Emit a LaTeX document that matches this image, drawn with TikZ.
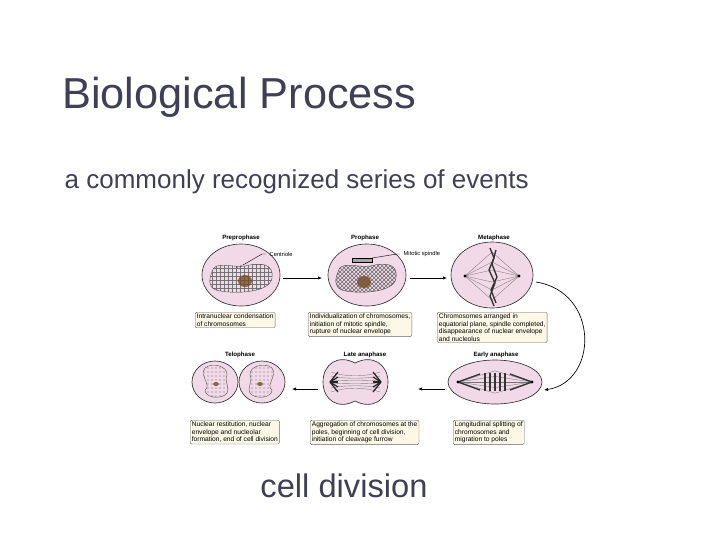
\documentclass[tikz,border=0pt]{standalone}
\usepackage{fontspec}
\setmainfont{Liberation Sans}
\usetikzlibrary{arrows.meta,patterns}
\definecolor{cellpink}{HTML}{F2D9E8}
\definecolor{boxcream}{HTML}{FCF7E6}
\definecolor{nucl}{HTML}{EDE6CF}
\definecolor{titlec}{HTML}{3F3F55}
\tikzset{
  cell/.style={draw=black!80,line width=0.5pt,fill=cellpink},
  desc/.style={draw=black!60,line width=0.3pt,fill=boxcream,rounded corners=1pt,align=left,font=\fontsize{5}{5.6}\selectfont,inner sep=1.2pt,anchor=north west},
  phase/.style={font=\fontsize{4.6}{5.5}\selectfont\bfseries},
  flow/.style={-{Latex[length=3pt,width=2.5pt]},line width=0.5pt},
  nuc/.style={draw=black!70,line width=0.3pt,fill=nucl},
  small/.style={font=\fontsize{4.3}{5}\selectfont},
}
\begin{document}
\begin{tikzpicture}[x=0.75pt,y=-0.75pt]
\useasboundingbox (0,0) rectangle (720,540);
\node[anchor=base west,text=titlec,inner sep=0pt,font=\fontsize{32.5}{34}\selectfont] (title) at (62,108) {Biological Process};
\node[anchor=base west,text=titlec,font=\fontsize{19.5}{22}\selectfont] (sub) at (60,188) {a commonly recognized series of events};
\node[anchor=base,text=titlec,font=\fontsize{24.5}{26}\selectfont] (cap) at (344,497) {cell division};

% phase labels
\node[phase] (l1) at (241,238) {Preprophase};
\node[phase] (l2) at (365,238) {Prophase};
\node[phase] (l3) at (494,238) {Metaphase};
\node[phase] (l4) at (240,355) {Telophase};
\node[phase] (l5) at (365,355) {Late anaphase};
\node[phase] (l6) at (496,355) {Early anaphase};

% Preprophase
\draw[cell] (241,275) ellipse (39 and 31);
\draw[nuc,pattern=grid,pattern color=black!55] (212,272) .. controls (214,260) and (232,268) .. (245,266) .. controls (262,262) and (274,264) .. (272,278) .. controls (270,294) and (230,294) .. (216,290) .. controls (208,287) and (209,279) .. (212,272) -- cycle;
\fill[brown!60!black,opacity=0.8] (245,281) ellipse (7 and 6);
\fill[black!70] (237,267) circle (0.9) (241,266) circle (0.9);
\coordinate (cen) at (243,265);
\draw[line width=0.3pt] (cen) -- (262,254) -- (266,254);
\node[anchor=west,small] (lc) at (265,254) {Centriole};

% Prophase
\draw[cell] (367,275) ellipse (39 and 31);
\draw[nuc,pattern=crosshatch,pattern color=black!60] (338,272) .. controls (340,260) and (358,268) .. (370,266) .. controls (387,262) and (398,264) .. (396,278) .. controls (394,294) and (354,294) .. (342,290) .. controls (334,287) and (335,279) .. (338,272) -- cycle;
\fill[brown!60!black,opacity=0.8] (364,282) ellipse (7 and 6);
\draw[line width=0.4pt,fill=black!35] (352,258) rectangle (372,262);
\coordinate (msp) at (372,258);
\draw[line width=0.3pt] (msp) -- (397,254) -- (400,254);
\node[anchor=west,small] (lm) at (399,254) {Mitotic spindle};

% Metaphase
\draw[cell] (492,275) ellipse (41 and 33);
\foreach \a in {-12,-7,-3,3,7,12}{\draw[black!55,line width=0.25pt] (465,276) -- (492,276+\a*2) -- (519,276);}
\draw[black!80,line width=1pt] (490,248) -- (494,258) -- (489,270) -- (495,283) -- (490,296) -- (494,306);
\draw[black!80,line width=1pt] (496,250) -- (492,264) -- (497,277) -- (491,290) -- (496,303);
\fill[black] (465,276) circle (1.6) (519,276) circle (1.6);

% Early anaphase
\draw[cell] (495,382) ellipse (47 and 22);
\foreach \a in {-8,-4,0,4,8}{\draw[black!55,line width=0.25pt] (458,382) -- (495,382+\a*1.4) -- (532,382);}
\draw[black!80,line width=1pt] (458,382) -- (480,374) (458,382) -- (480,390) (532,382) -- (510,374) (532,382) -- (510,390);
\foreach \x in {485,490,495,500,505}{\draw[black!80,line width=0.9pt] (\x,373) -- (\x,391);}
\fill[black] (458,382) circle (1.6) (532,382) circle (1.6);

% Late anaphase
\draw[cell] (355,363) .. controls (372,354) and (388,364) .. (388,382) .. controls (388,400) and (372,410) .. (355,401) .. controls (338,410) and (323,400) .. (323,382) .. controls (323,364) and (338,354) .. (355,363) -- cycle;
\foreach \a in {-10,-6,-2,2,6,10}{\draw[black!50,line width=0.3pt] (331,382+\a) .. controls (345,382+\a*0.5) and (365,382+\a*0.5) .. (380,382+\a);}
\foreach \a in {-10,-5,0,5,10}{\draw[black!85,line width=0.9pt] (330,382) -- (338,382+\a) (381,382) -- (373,382+\a);}

% Telophase
\draw[cell] (215,382) ellipse (23 and 21);
\draw[cell] (262,382) ellipse (23 and 21);
\draw[nuc,pattern=dots,pattern color=black!60] (205,368) .. controls (212,362) and (228,366) .. (227,375) .. controls (224,382) and (230,386) .. (227,393) .. controls (222,400) and (205,398) .. (205,390) .. controls (212,385) and (199,376) .. (205,368) -- cycle;
\draw[nuc,pattern=dots,pattern color=black!60] (272,368) .. controls (265,362) and (249,366) .. (250,375) .. controls (253,382) and (247,386) .. (250,393) .. controls (255,400) and (272,398) .. (272,390) .. controls (265,385) and (278,376) .. (272,368) -- cycle;
\fill[brown!60!black,opacity=0.8] (216,384) ellipse (3 and 2) (260,384) ellipse (3 and 2);

% description boxes
\node[desc] (d1) at (195,312) {Intranuclear condensation\\of chromosomes};
\node[desc] (d2) at (308,312) {Individualization of chromosomes,\\initiation of mitotic spindle,\\rupture of nuclear envelope};
\node[desc] (d3) at (437,312) {Chromosomes arranged in\\equatorial plane, spindle completed,\\disappearance of nuclear envelope\\and nucleolus};
\node[desc] (d4) at (190,420) {Nuclear restitution, nuclear\\envelope and nucleolar\\formation, end of cell division};
\node[desc] (d5) at (310,420) {Aggregation of chromosomes at the\\poles, beginning of cell division,\\initiation of cleavage furrow};
\node[desc] (d6) at (453,420) {Longitudinal splitting of\\chromosomes and\\migration to poles};

% arrows
\coordinate (a1) at (283,278); \coordinate (b1) at (322,278);
\coordinate (a2) at (410,278); \coordinate (b2) at (447,278);
\draw[flow] (a1) -- (b1);
\draw[flow] (a2) -- (b2);
\coordinate (a3) at (536,282); \coordinate (b3) at (544,390);
\draw[flow] (a3) .. controls (600,292) and (598,382) .. (b3);
\coordinate (a4) at (445,389); \coordinate (b4) at (418,389);
\coordinate (a5) at (318,389); \coordinate (b5) at (292,389);
\draw[flow] (a4) -- (b4);
\draw[flow] (a5) -- (b5);
\end{tikzpicture}
\end{document}
